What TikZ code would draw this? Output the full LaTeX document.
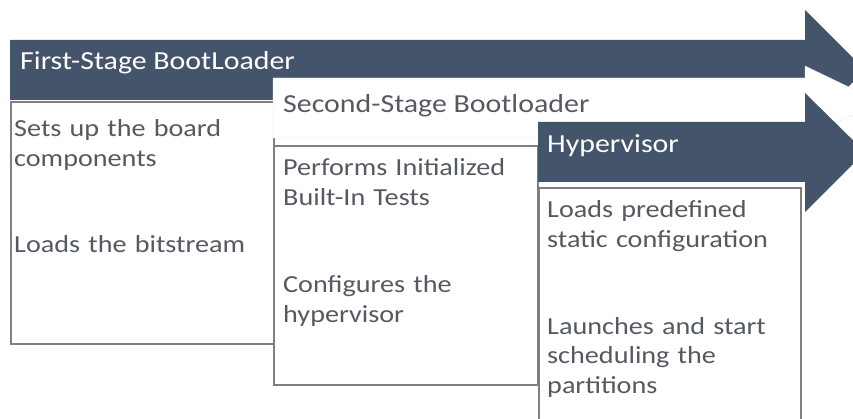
\documentclass[tikz,border=0pt]{standalone}
\usepackage{fontspec}
\setmainfont{Carlito}[FakeStretch=1.15]
\definecolor{bandblue}{HTML}{44546A}
\definecolor{textgray}{HTML}{555A62}
\definecolor{framegray}{HTML}{7F7F7F}
\begin{document}
\begin{tikzpicture}[x=1pt, y=-1pt]
      %% Styles for the stages
      \tikzset
      {
      title/.style={anchor=base west, inner sep=0pt, font=\fontsize{26}{31}\selectfont},
      dark title/.style={title, text=white},
      light title/.style={title, text=textgray},
      panel/.style={draw=framegray, line width=1.6pt, fill=white, anchor=north west, inner sep=0pt},
      bullet/.style={anchor=base west, inner sep=0pt, text width=250pt, align=left, text=textgray, font=\fontsize{24.5}{29.5}\selectfont},
      }
      \useasboundingbox (0,0) rectangle (853,419);
      \clip (0,0) rectangle (853,419);
      %% First stage
      \fill[bandblue] (10,40) -- (805,40) -- (805,10) -- (865,70) -- (805,130) -- (805,100) -- (10,100) -- cycle;
      \node[dark title] (t1) at (20,70) {First-Stage BootLoader};
      \node[panel, minimum width=263, minimum height=242] (box1) at (10,101) {};
      \node[bullet] (b11) at (14,137) {Sets up the board\\components};
      \node[bullet] (b12) at (14,253) {Loads the bitstream};
      %% Second stage
      \filldraw[fill=white, draw=black!10] (273,78) -- (805,78) -- (805,66) -- (880,102) -- (805,138) -- (273,138) -- cycle;
      \node[light title] (t2) at (283,113) {Second-Stage Bootloader};
      \node[panel, minimum width=264, minimum height=239] (box2) at (273,145) {};
      \node[bullet] (b21) at (283,176) {Performs Initialized\\Built-In Tests};
      \node[bullet] (b22) at (283,293) {Configures the\\hypervisor};
      %% Third stage
      \fill[bandblue] (538,122) -- (805,122) -- (805,93) -- (865,152) -- (805,212) -- (805,182) -- (538,182) -- cycle;
      \node[dark title] (t3) at (547,153) {Hypervisor};
      \node[panel, minimum width=262, minimum height=250] (box3) at (538,187) {};
      \node[bullet] (b31) at (547,218) {Loads predefined\\static configuration};
      \node[bullet] (b32) at (547,334) {Launches and start\\scheduling the\\partitions};
\end{tikzpicture}
\end{document}
